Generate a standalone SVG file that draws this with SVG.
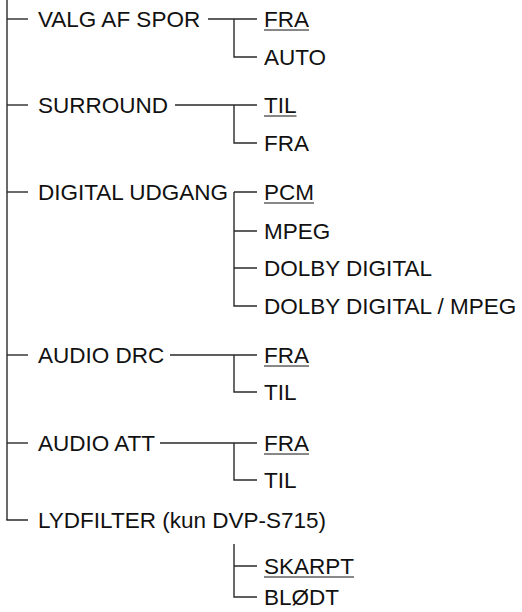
<svg xmlns="http://www.w3.org/2000/svg" width="522" height="612" viewBox="0 0 522 612">
<style>
text{font-family:"Liberation Sans",Arial,sans-serif;font-size:22.5px;fill:#111}
.c line,.c path{stroke:#2a2a2a;stroke-width:1.4;fill:none}
.ul{stroke:#111;stroke-width:1}
</style>
<rect width="522" height="612" fill="#fff"/>
<g class="c" id="connectors">
<line x1="7" y1="0" x2="7" y2="520"/>
<line x1="7" y1="19" x2="28" y2="19"/>
<line x1="7" y1="105" x2="28" y2="105"/>
<line x1="7" y1="192" x2="28" y2="192"/>
<line x1="7" y1="355" x2="28" y2="355"/>
<line x1="7" y1="443" x2="28" y2="443"/>
<path d="M7 519.3V520H28"/>
<path d="M208 19H257M234 19V57H257"/>
<path d="M175 105H257M234 105V143H257"/>
<path d="M234 192H257M234 192V306H257M234 231H257M234 268H257"/>
<path d="M170 355H257M234 355V392H257"/>
<path d="M160 443H257M234 443V480H257"/>
<path d="M234 544V597H257M234 566H257"/>
</g>
<g id="valg"><text x="38" y="27">VALG AF SPOR</text></g>
<g id="valg-fra"><text x="264" y="27">FRA</text><line class="ul" x1="264" y1="30" x2="309" y2="30"/></g>
<g id="valg-auto"><text x="264" y="65">AUTO</text></g>
<g id="surround"><text x="38" y="113">SURROUND</text></g>
<g id="surround-til"><text x="264" y="113">TIL</text><line class="ul" x1="264" y1="116" x2="296.5" y2="116"/></g>
<g id="surround-fra"><text x="264" y="151">FRA</text></g>
<g id="digital"><text x="38" y="200">DIGITAL UDGANG</text></g>
<g id="digital-pcm"><text x="264" y="200">PCM</text><line class="ul" x1="264" y1="203" x2="314" y2="203"/></g>
<g id="digital-mpeg"><text x="264" y="239">MPEG</text></g>
<g id="digital-dolby"><text x="264" y="276">DOLBY DIGITAL</text></g>
<g id="digital-dolby-mpeg"><text x="264" y="314">DOLBY DIGITAL / MPEG</text></g>
<g id="drc"><text x="38" y="363">AUDIO DRC</text></g>
<g id="drc-fra"><text x="264" y="363">FRA</text><line class="ul" x1="264" y1="366" x2="309" y2="366"/></g>
<g id="drc-til"><text x="264" y="400">TIL</text></g>
<g id="att"><text x="38" y="451">AUDIO ATT</text></g>
<g id="att-fra"><text x="264" y="451">FRA</text><line class="ul" x1="264" y1="454" x2="309" y2="454"/></g>
<g id="att-til"><text x="264" y="488">TIL</text></g>
<g id="lydfilter"><text x="38" y="528">LYDFILTER (kun DVP-S715)</text></g>
<g id="lyd-skarpt"><text x="264" y="574">SKARPT</text><line class="ul" x1="264" y1="577" x2="354" y2="577"/></g>
<g id="lyd-blodt"><text x="264" y="605">BLØDT</text></g>
</svg>
